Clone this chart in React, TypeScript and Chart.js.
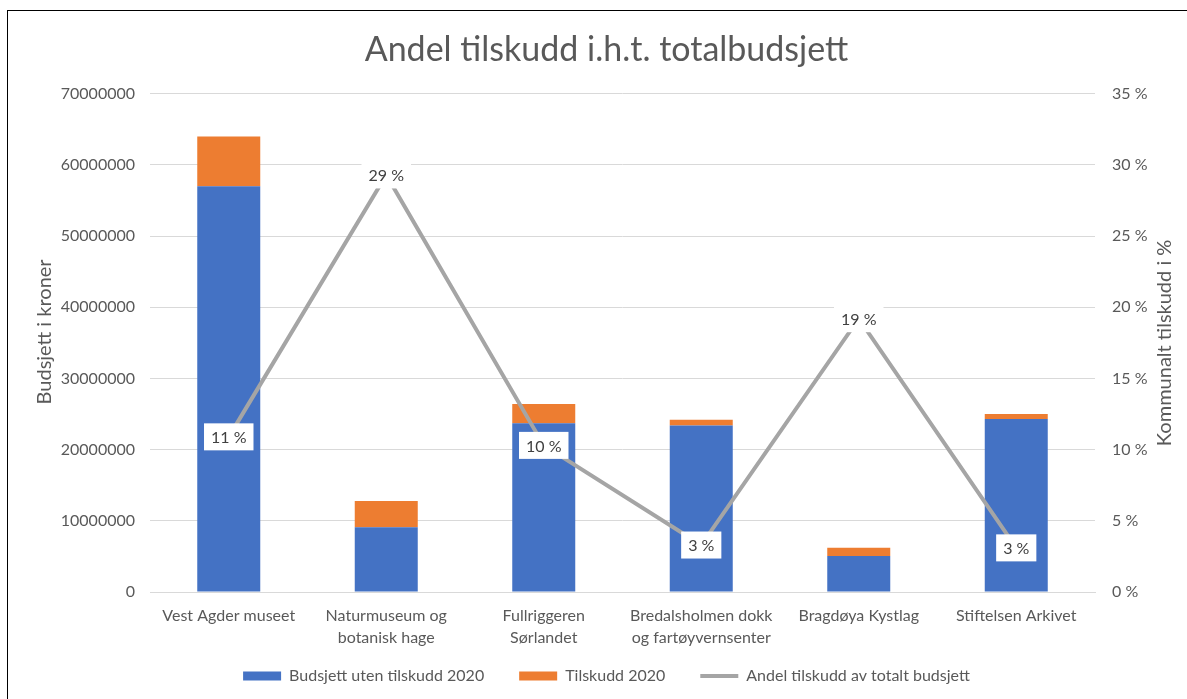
import React, { useEffect, useRef } from 'react';
import { Chart, registerables } from 'chart.js';

Chart.register(...registerables);

const FONT = 'Lato, "Open Sans", "Liberation Sans", sans-serif';
const TEXT = '#595959';

const categories: string[][] = [
  ['Vest Agder museet'],
  ['Naturmuseum og', 'botanisk hage'],
  ['Fullriggeren', 'Sørlandet'],
  ['Bredalsholmen dokk', 'og fartøyvernsenter'],
  ['Bragdøya Kystlag'],
  ['Stiftelsen Arkivet'],
];

const budgetWithoutGrant = [57000000, 9100000, 23700000, 23400000, 5050000, 24300000];
const grant2020 = [7000000, 3700000, 2700000, 800000, 1150000, 700000];
const grantShare = [10.9, 29.3, 10.3, 3.3, 19.2, 3.1];

const seriesNames = ['Budsjett uten tilskudd 2020', 'Tilskudd 2020', 'Andel tilskudd av totalt budsjett'];
const chartTitle = 'Andel tilskudd i.h.t. totalbudsjett';
const leftAxisTitle = 'Budsjett i kroner';
const rightAxisTitle = 'Kommunalt tilskudd i %';

const overlayPlugin = {
  id: 'overlayLabels',
  afterDatasetsDraw(chart: any) {
    const ctx = chart.ctx as CanvasRenderingContext2D;
    const meta = chart.getDatasetMeta(2);
    ctx.save();
    ctx.font = `16px ${FONT}`;
    ctx.textAlign = 'center';
    ctx.textBaseline = 'middle';
    meta.data.forEach((pt: any, i: number) => {
      const txt = Math.round(grantShare[i]) + ' %';
      const w = ctx.measureText(txt).width + 14;
      const h = 27;
      ctx.fillStyle = '#ffffff';
      ctx.fillRect(pt.x - w / 2, pt.y - h / 2, w, h);
      ctx.fillStyle = '#404040';
      ctx.fillText(txt, pt.x, pt.y + 1);
    });
    ctx.restore();
  },
  afterDraw(chart: any) {
    const ctx = chart.ctx as CanvasRenderingContext2D;
    const area = chart.chartArea;
    const midY = (area.top + area.bottom) / 2;
    ctx.save();
    ctx.font = `20px ${FONT}`;
    ctx.fillStyle = TEXT;
    ctx.textAlign = 'center';
    ctx.textBaseline = 'middle';
    ctx.save();
    ctx.translate(45, midY - 11);
    ctx.rotate(-Math.PI / 2);
    ctx.fillText(leftAxisTitle, 0, 0);
    ctx.restore();
    ctx.translate(1165, midY);
    ctx.rotate(-Math.PI / 2);
    ctx.fillText(rightAxisTitle, 0, 0);
    ctx.restore();
  },
};

export default function App() {
  const ref = useRef<HTMLCanvasElement | null>(null);

  useEffect(() => {
    if (!ref.current) return;
    const chart = new Chart(ref.current, {
      type: 'bar',
      data: {
        labels: categories,
        datasets: [
          {
            type: 'bar',
            label: seriesNames[0],
            data: budgetWithoutGrant,
            backgroundColor: '#4472C4',
            stack: 'budget',
            yAxisID: 'y',
            order: 1,
            pointStyle: 'rect',
            categoryPercentage: 1,
            barPercentage: 0.4,
          } as any,
          {
            type: 'bar',
            label: seriesNames[1],
            data: grant2020,
            backgroundColor: '#ED7D31',
            stack: 'budget',
            yAxisID: 'y',
            order: 1,
            pointStyle: 'rect',
            categoryPercentage: 1,
            barPercentage: 0.4,
          } as any,
          {
            type: 'line',
            label: seriesNames[2],
            data: grantShare,
            borderColor: '#A5A5A5',
            backgroundColor: '#A5A5A5',
            borderWidth: 4,
            pointRadius: 0,
            pointHoverRadius: 0,
            tension: 0,
            yAxisID: 'y1',
            order: 0,
            pointStyle: 'line',
          } as any,
        ],
      },
      options: {
        responsive: false,
        animation: false,
        layout: { padding: { left: 26, right: 0, top: 0, bottom: 0 } },
        plugins: {
          title: {
            display: true,
            text: chartTitle,
            color: TEXT,
            font: { family: FONT, size: 34, weight: 'normal' as any },
            padding: { top: 30, bottom: 23 },
          },
          legend: {
            position: 'bottom',
            labels: {
              usePointStyle: true,
              pointStyleWidth: 38,
              boxHeight: 9,
              padding: 35,
              color: TEXT,
              font: { family: FONT, size: 16 },
              sort: (a: any, b: any) => a.datasetIndex - b.datasetIndex,
            },
          },
          tooltip: { enabled: false },
        },
        scales: {
          x: {
            stacked: true,
            grid: { display: false, drawTicks: false },
            border: { display: true, color: '#D9D9D9', width: 1 },
            ticks: {
              color: TEXT,
              font: { family: FONT, size: 16, lineHeight: 1.375 },
              mirror: true,
              padding: -35,
              maxRotation: 0,
              autoSkip: false,
            },
            afterFit: (s: any) => {
              s.height = 41;
            },
          },
          y: {
            stacked: true,
            position: 'left',
            min: 0,
            max: 70000000,
            grid: { color: '#D9D9D9', lineWidth: 1, drawTicks: false },
            border: { display: false },
            ticks: {
              stepSize: 10000000,
              color: TEXT,
              font: { family: FONT, size: 16 },
              padding: 15,
              callback: (v: any) => String(v),
            },
            afterFit: (s: any) => {
              s.width = 124;
            },
          },
          y1: {
            position: 'right',
            min: 0,
            max: 35,
            grid: { display: false, drawTicks: false },
            border: { display: false },
            ticks: {
              stepSize: 5,
              color: TEXT,
              font: { family: FONT, size: 16 },
              padding: 17,
              callback: (v: any) => v + ' %',
            },
            afterFit: (s: any) => {
              s.width = 92;
            },
          },
        },
      },
      plugins: [overlayPlugin],
    } as any);
    return () => chart.destroy();
  }, []);

  return (
    <div
      style={{
        position: 'absolute',
        left: 0,
        top: 0,
        width: 1187,
        height: 699,
        overflow: 'hidden',
        background: '#ffffff',
      }}
    >
      <canvas
        ref={ref}
        width={1187}
        height={694}
        style={{ position: 'absolute', left: 0, top: 0, display: 'block' }}
      />
      <div
        style={{
          position: 'absolute',
          left: 7,
          top: 10,
          width: 1180,
          height: 700,
          borderLeft: '1px solid #000',
          borderTop: '1px solid #000',
          boxSizing: 'border-box',
          pointerEvents: 'none',
        }}
      />
    </div>
  );
}
